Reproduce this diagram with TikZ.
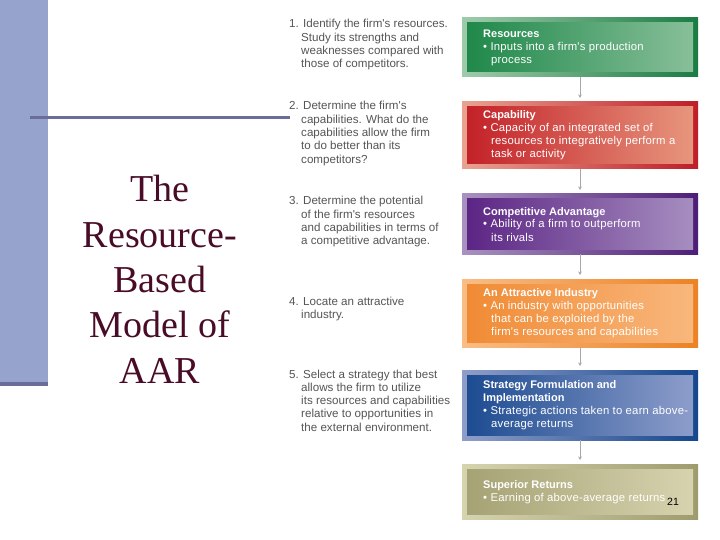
\documentclass[tikz,border=0pt]{standalone}
\usepackage{fontspec}
\setmainfont{Liberation Serif}
\newfontfamily\arialf{Liberation Sans}
\newfontfamily\arialsp[LetterSpace=2]{Liberation Sans}
\usetikzlibrary{arrows.meta}
\definecolor{barblue}{HTML}{96A3CC}
\definecolor{barline}{HTML}{6A6D9A}
\definecolor{titlecol}{HTML}{4A0B26}
\definecolor{steptext}{HTML}{555555}
\definecolor{conncol}{HTML}{A8A8A8}
\definecolor{gA}{HTML}{9FCBAA}\definecolor{gB}{HTML}{1A7C43}\definecolor{gC}{HTML}{1D8748}\definecolor{gD}{HTML}{8AC09B}
\definecolor{rA}{HTML}{E9A391}\definecolor{rB}{HTML}{BE1E28}\definecolor{rC}{HTML}{C21F27}\definecolor{rD}{HTML}{E8987F}
\definecolor{pA}{HTML}{A892C0}\definecolor{pB}{HTML}{4E1E77}\definecolor{pC}{HTML}{5A2383}\definecolor{pD}{HTML}{A890C1}
\definecolor{oA}{HTML}{F9BD86}\definecolor{oB}{HTML}{EC8224}\definecolor{oC}{HTML}{F08A33}\definecolor{oD}{HTML}{F9B87E}
\definecolor{bA}{HTML}{8F9EC9}\definecolor{bB}{HTML}{16478D}\definecolor{bC}{HTML}{1A4A90}\definecolor{bD}{HTML}{909FCC}
\definecolor{yA}{HTML}{D6D3B0}\definecolor{yB}{HTML}{9E9C6E}\definecolor{yC}{HTML}{A4A173}\definecolor{yD}{HTML}{D8D4B0}
\tikzset{
  boxfr/.style={anchor=north west, inner sep=0pt, outer sep=0pt,
    minimum width=236pt, left color=#1A, right color=#1B,
    path picture={\shade[left color=#1C, right color=#1D]
      ([shift={(5pt,5pt)}]path picture bounding box.south west) rectangle
      ([shift={(-5pt,-5pt)}]path picture bounding box.north east);}},
  steptxt/.style={anchor=base west, inner sep=0pt, text=steptext,
    font=\arialf\fontsize{11.6}{13}\selectfont},
  boxtxt/.style={anchor=base west, inner sep=0pt, text=white,
    font=\arialsp\fontsize{11.3}{13}\selectfont},
  boxhead/.style={boxtxt, font=\arialf\bfseries\fontsize{11}{13}\selectfont},
  titletxt/.style={anchor=base, inner sep=0pt, text=titlecol,
    font=\fontsize{38}{45}\selectfont},
  conn/.style={draw=conncol, line width=0.8pt, -{Stealth[length=3.5pt,width=3.5pt]}, shorten >=4pt}
}
\begin{document}
\begin{tikzpicture}[x=1pt,y=-1pt]
\useasboundingbox (0,0) rectangle (720,540);
\fill[white] (0,0) rectangle (720,540);
% left bar
\fill[barblue] (0,0) rectangle (48,383);
\fill[barline] (0,382) rectangle (48,386);
\draw[barline, line width=3pt] (30,117.5) -- (290,117.5);
% title
\node[titletxt] (ti1) at (160,202) {The};
\node[titletxt] (ti2) at (160,247.3) {Resource-};
\node[titletxt] (ti3) at (160,292.6) {Based};
\node[titletxt] (ti4) at (160,337.9) {Model of};
\node[titletxt] (ti5) at (160,383.2) {AAR};
% steps
\node[steptxt] (s1a) at (289,28) {1. Identify the firm's resources.};
\node[steptxt] (s1b) at (301,41.3) {Study its strengths and};
\node[steptxt] (s1c) at (301,54.6) {weaknesses compared with};
\node[steptxt] (s1d) at (301,67.9) {those of competitors.};
\node[steptxt] (s2a) at (289,110) {2. Determine the firm's};
\node[steptxt] (s2b) at (301,123.3) {capabilities. What do the};
\node[steptxt] (s2c) at (301,136.6) {capabilities allow the firm};
\node[steptxt] (s2d) at (301,149.9) {to do better than its};
\node[steptxt] (s2e) at (301,163.2) {competitors?};
\node[steptxt] (s3a) at (289,205) {3. Determine the potential};
\node[steptxt] (s3b) at (301,218.3) {of the firm's resources};
\node[steptxt] (s3c) at (301,231.6) {and capabilities in terms of};
\node[steptxt] (s3d) at (301,244.9) {a competitive advantage.};
\node[steptxt] (s4a) at (289,305) {4. Locate an attractive};
\node[steptxt] (s4b) at (301,318.3) {industry.};
\node[steptxt] (s5a) at (289,378) {5. Select a strategy that best};
\node[steptxt] (s5b) at (301,391.3) {allows the firm to utilize};
\node[steptxt] (s5c) at (301,404.6) {its resources and capabilities};
\node[steptxt] (s5d) at (301,417.9) {relative to opportunities in};
\node[steptxt] (s5e) at (301,431.2) {the external environment.};
% boxes
\node[boxfr=g, minimum height=59pt] (b1) at (462,18) {};
\node[boxfr=r, minimum height=67pt] (b2) at (462,102) {};
\node[boxfr=p, minimum height=60pt] (b3) at (462,194) {};
\node[boxfr=o, minimum height=68pt] (b4) at (462,279) {};
\node[boxfr=b, minimum height=70pt] (b5) at (462,370) {};
\node[boxfr=y, minimum height=55pt] (b6) at (462,464) {};
% connectors
\draw[conn] (b1.south) -- (b2.north);
\draw[conn] (b2.south) -- (b3.north);
\draw[conn] (b3.south) -- (b4.north);
\draw[conn] (b4.south) -- (b5.north);
\draw[conn] (b5.south) -- (b6.north);
% box texts
\node[boxhead] (r1) at (483,38) {Resources};
\node[boxtxt] (r2) at (483,51) {\textbullet\ Inputs into a firm's production};
\node[boxtxt] (r3) at (491,64) {process};
\node[boxhead] (c1) at (483,119) {Capability};
\node[boxtxt] (c2) at (483,132) {\textbullet\ Capacity of an integrated set of};
\node[boxtxt] (c3) at (491,145) {resources to integratively perform a};
\node[boxtxt] (c4) at (491,158) {task or activity};
\node[boxhead] (a1) at (483,215) {Competitive Advantage};
\node[boxtxt] (a2) at (483,228) {\textbullet\ Ability of a firm to outperform};
\node[boxtxt] (a3) at (491,241) {its rivals};
\node[boxhead] (i1) at (483,296) {An Attractive Industry};
\node[boxtxt] (i2) at (483,309) {\textbullet\ An industry with opportunities};
\node[boxtxt] (i3) at (491,322) {that can be exploited by the};
\node[boxtxt] (i4) at (491,335) {firm's resources and capabilities};
\node[boxhead] (f1) at (483,388) {Strategy Formulation and};
\node[boxhead] (f2) at (483,401) {Implementation};
\node[boxtxt] (f3) at (483,414) {\textbullet\ Strategic actions taken to earn above-};
\node[boxtxt] (f4) at (491,427) {average returns};
\node[boxhead] (u1) at (483,488) {Superior Returns};
\node[boxtxt] (u2) at (483,501) {\textbullet\ Earning of above-average returns};
\node[anchor=base west, inner sep=0pt, font=\arialf\fontsize{10.5}{12}\selectfont] (pg) at (667,505) {21};
\end{tikzpicture}
\end{document}
